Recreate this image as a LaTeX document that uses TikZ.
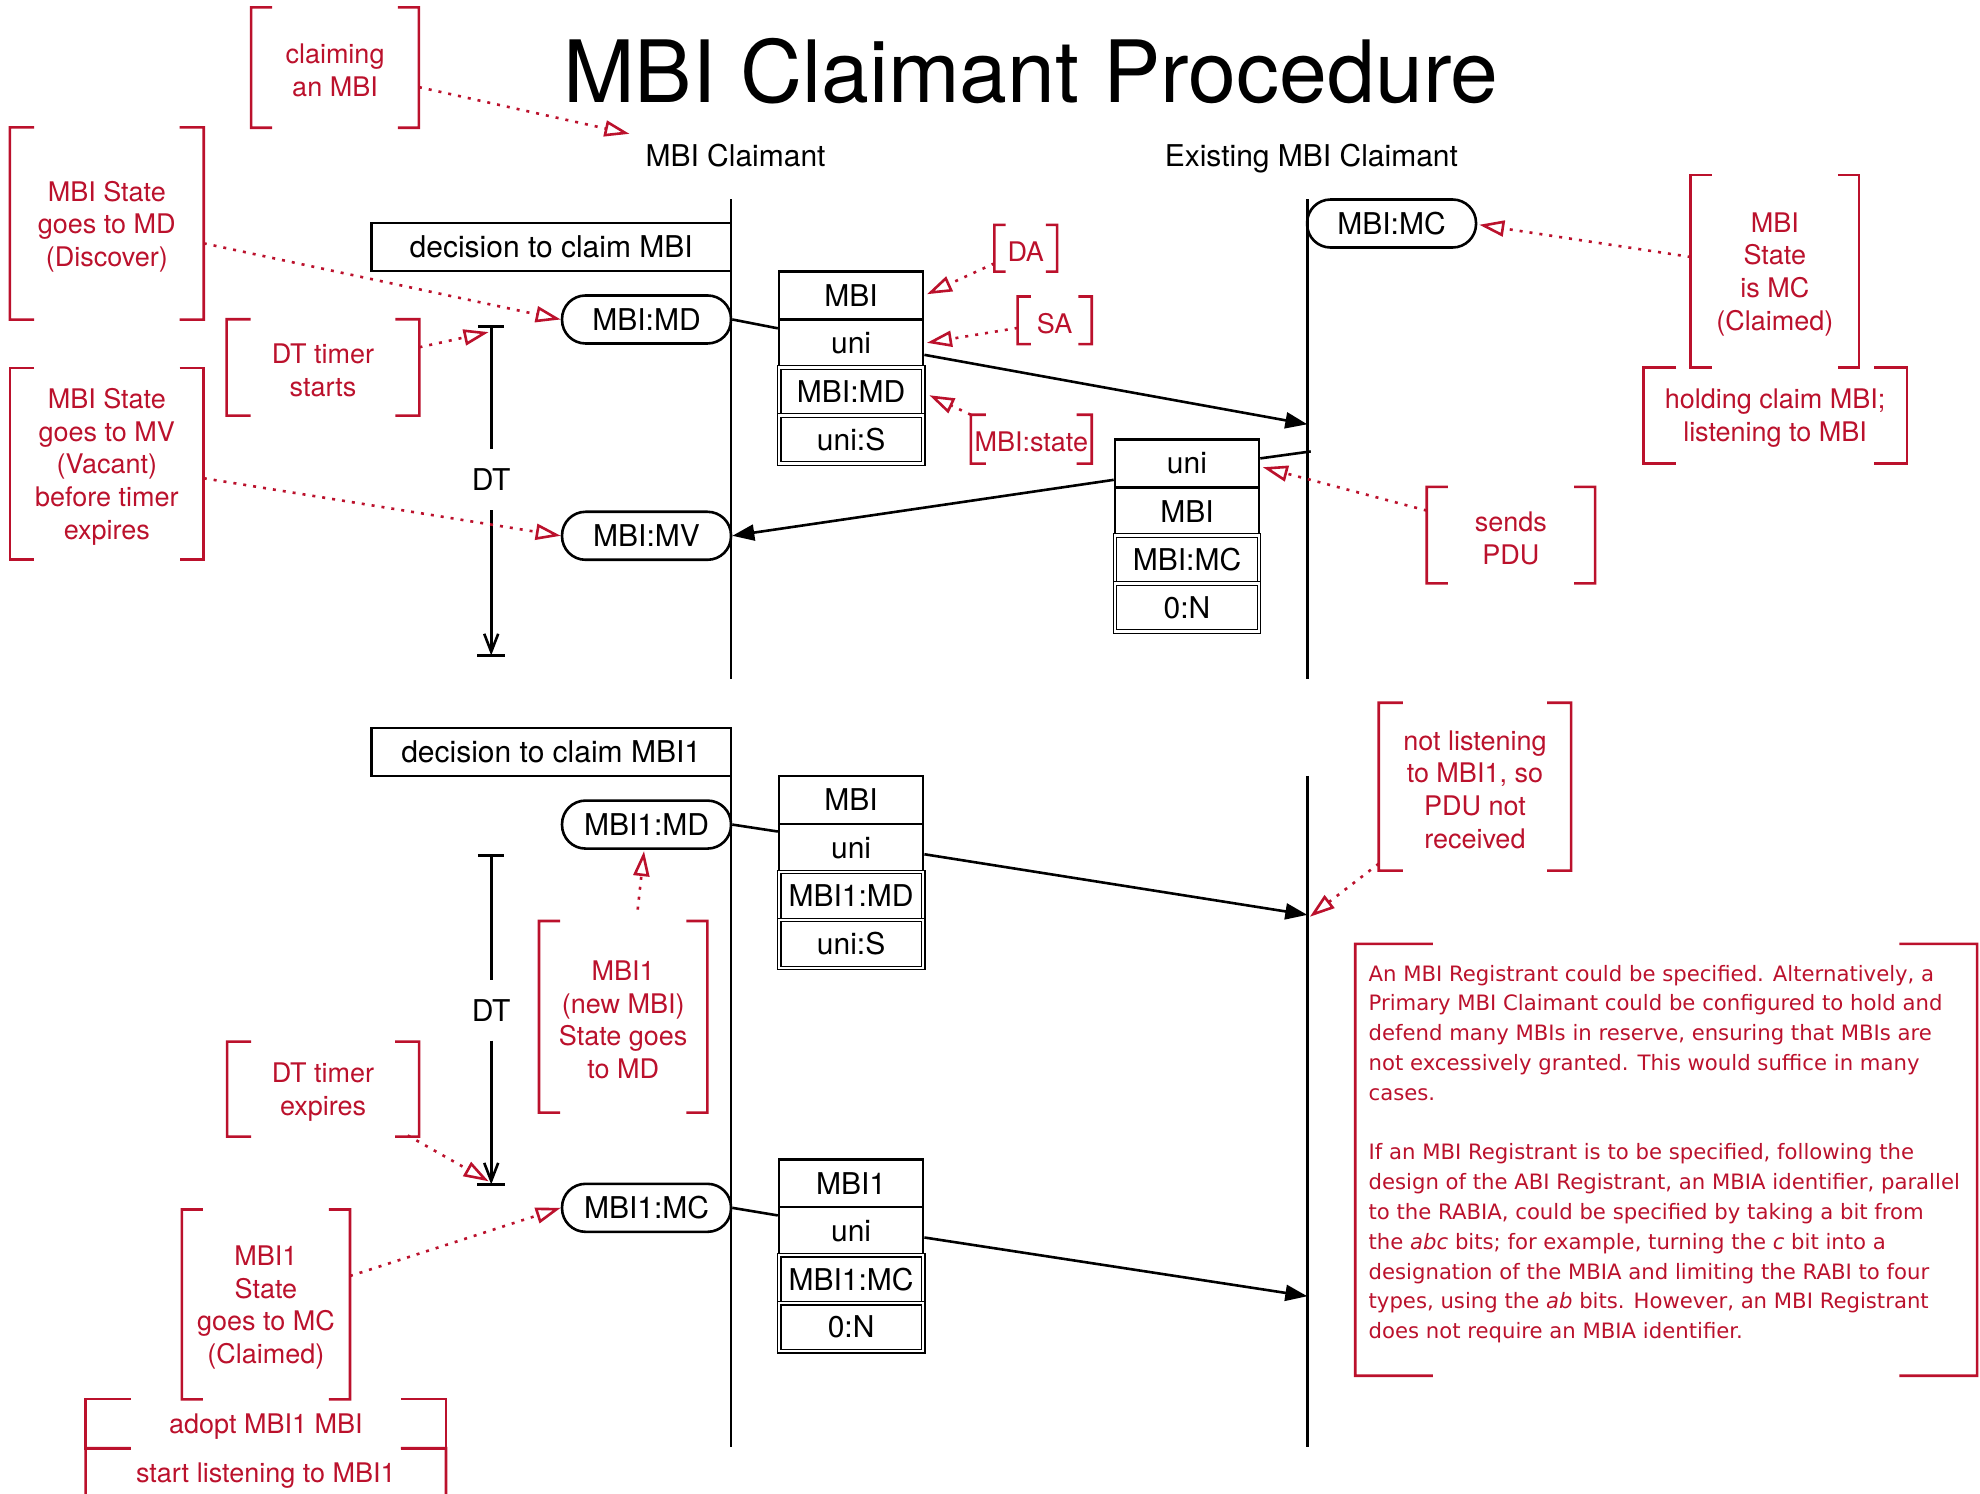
\documentclass[tikz,border=0pt]{standalone}
\usepackage{fontspec}
\setmainfont{TeX Gyre Heros}
\newfontfamily\parafont{DejaVu Sans}
\usetikzlibrary{arrows.meta,calc,fit}
\definecolor{nred}{RGB}{187,17,44}

% square brackets on both sides of a node; ticks are a fraction of its width
\newcommand\bracketsof[2][0.125]{%
  \draw[brk] ($(#2.north west)!#1!(#2.north east)$) -| (#2.south west)
    -- ($(#2.south west)!#1!(#2.south east)$);
  \draw[brk] ($(#2.north east)!#1!(#2.north west)$) -| (#2.south east)
    -- ($(#2.south east)!#1!(#2.south west)$);
}

\tikzset{
  lbl/.style={font=\fontsize{30}{36}\selectfont, inner sep=0pt},
  note/.style={font=\fontsize{27}{32.7}\selectfont, text=nred, align=center, inner sep=0pt, yshift=-3pt},
  frame/.style={inner sep=0pt},
  brk/.style={draw=nred, line width=2.6pt},
  life/.style={draw, line width=2.6pt},
  msg/.style={draw, line width=2.6pt, -{Triangle[length=22pt,width=16pt]}},
  link/.style={draw, line width=2.6pt},
  ref/.style={draw=nred, line width=2.6pt, dash pattern=on 3pt off 7pt,
    -{Triangle[open, length=25pt, width=16pt]}},
  field/.style={lbl, draw, fill=white, line width=2.6pt, minimum width=144pt, minimum height=48pt},
  dfield/.style={field, line width=1.1pt, double, double distance=2.6pt},
  state/.style={lbl, draw, rounded corners=23.5pt, line width=2.6pt,
    minimum width=169pt, minimum height=48pt},
  decision/.style={inner sep=0pt, draw, line width=2.6pt},
  timer/.style={lbl, minimum height=60.6pt},
  tbar/.style={draw, line width=2.6pt},
}

\begin{document}
\begin{tikzpicture}[x=1.2628pt, y=-1.2628pt]
\clip (0,0) rectangle (1568,1183);

% title and participants
\node[font=\fontsize{86}{100}\selectfont, anchor=base, inner sep=0pt] (title) at (816.4,81) {MBI Claimant Procedure};
\node[lbl, anchor=base] (hdr1) at (582.5,132) {MBI Claimant};
\node[lbl, anchor=base] (hdr2) at (1038.5,132) {Existing MBI Claimant};

% lifelines
\coordinate (a1top) at (579,157.6);
\coordinate (a1bot) at (579,538);
\coordinate (b1top) at (1035.3,157.6);
\coordinate (b1bot) at (1035.3,538);
\coordinate (a2top) at (579,576.5);
\coordinate (a2bot) at (579,1145.7);
\coordinate (b2top) at (1035.3,614.5);
\coordinate (b2bot) at (1035.3,1145.7);
\draw[life] (a1top) -- (a1bot);
\draw[life] (b1top) -- (b1bot);
\draw[life] (a2top) -- (a2bot);
\draw[life] (b2top) -- (b2bot);

\coordinate (hit1) at (1035.3,336);
\coordinate (src1) at (1038,357.5);
\coordinate (hit2) at (1035.3,724.5);
\coordinate (hit3) at (1035.3,1026.5);

% decisions and states
\node[decision, fit={(294,176.5) (579,214.5)}] (dec1) {};
\node[lbl] (dec1t) at (dec1.center) {decision to claim MBI};
\node[decision, fit={(294,576.5) (579,614.5)}] (dec2) {};
\node[lbl] (dec2t) at (dec2.center) {decision to claim MBI1};
\node[state] (smd) at (512,253) {MBI:MD};
\node[state] (smv) at (512,424.3) {MBI:MV};
\node[state] (smc) at (1102,177) {MBI:MC};
\node[state] (s1md) at (512,653) {MBI1:MD};
\node[state] (s1mc) at (512,956.5) {MBI1:MC};

% PDUs
\node[field] (p1m) at (674,234) {MBI};
\node[field] (p1u) at (674,272) {uni};
\node[dfield] (p1s) at (674,310) {MBI:MD};
\node[dfield] (p1a) at (674,348) {uni:S};

\node[field] (p2u) at (940,367) {uni};
\node[field] (p2m) at (940,405) {MBI};
\node[dfield] (p2s) at (940,443) {MBI:MC};
\node[dfield] (p2n) at (940,481) {0:N};

\node[field] (p3m) at (674,633.5) {MBI};
\node[field] (p3u) at (674,671.5) {uni};
\node[dfield] (p3s) at (674,709.5) {MBI1:MD};
\node[dfield] (p3a) at (674,747.5) {uni:S};

\node[field] (p4m) at (674,937) {MBI1};
\node[field] (p4u) at (674,975) {uni};
\node[dfield] (p4s) at (674,1013) {MBI1:MC};
\node[dfield] (p4n) at (674,1051) {0:N};

% messages
\draw[link] (smd.east) -- ($(p1u.west)+(0,-12)$);
\draw[msg] ($(p1u.east)+(0,9)$) -- (hit1);
\draw[link] (src1) -- ($(p2u.east)+(0,-4)$);
\draw[msg] ($(p2u.west)+(0,13)$) -- (smv.east);
\draw[link] (s1md.east) -- ($(p3u.west)+(0,-13)$);
\draw[msg] ($(p3u.east)+(0,5)$) -- (hit2);
\draw[link] (s1mc.east) -- ($(p4u.west)+(0,-12.5)$);
\draw[msg] ($(p4u.east)+(0,5)$) -- (hit3);

% DT timers
\coordinate (dt1top) at (389,258.5);
\coordinate (dt1bot) at (389,519);
\node[timer] (dt1) at (389,380) {DT};
\draw[life] (dt1top) -- (dt1.north);
\draw[life, -{Straight Barb[length=18pt,width=14pt]}] (dt1.south) -- (dt1bot);
\draw[tbar] ($(dt1top)+(-10.5,0)$) -- ($(dt1top)+(10,0)$);
\draw[tbar] ($(dt1bot)+(-11,0)$) -- ($(dt1bot)+(11,0)$);

\coordinate (dt2top) at (389,677.5);
\coordinate (dt2bot) at (389,938);
\node[timer] (dt2) at (389,800) {DT};
\draw[life] (dt2top) -- (dt2.north);
\draw[life, -{Straight Barb[length=18pt,width=14pt]}] (dt2.south) -- (dt2bot);
\draw[tbar] ($(dt2top)+(-10.5,0)$) -- ($(dt2top)+(10,0)$);
\draw[tbar] ($(dt2bot)+(-11,0)$) -- ($(dt2bot)+(11,0)$);

% note frames
\node[frame, fit={(199,6) (331.6,101)}] (claim) {};
\node[frame, fit={(8,101) (161.2,253)}] (mdnote) {};
\node[frame, fit={(179.6,253) (332,329)}] (dtstart) {};
\node[frame, fit={(8,291.5) (161.2,443)}] (mvnote) {};
\node[frame, fit={(787.6,178.2) (837,215)}] (da) {};
\node[frame, fit={(806,235) (864.4,272.4)}] (sa) {};
\node[frame, fit={(769,328.6) (864.4,367)}] (mst) {};
\node[frame, fit={(1339,138.6) (1472,291)}] (mcnote) {};
\node[frame, fit={(1301.5,291) (1510,366.7)}] (hold) {};
\node[frame, fit={(1130,385.7) (1263,461.8)}] (sends) {};
\node[frame, fit={(1092,556.7) (1244,689.3)}] (notl) {};
\node[frame, fit={(427,729.5) (560,881)}] (newmbi) {};
\node[frame, fit={(180,825) (331.7,900)}] (dtexp) {};
\node[frame, fit={(144.2,958) (277,1108)}] (mcclaim) {};
\node[frame, fit={(68,1108) (353,1147)}] (adopt) {};
\node[frame, fit={(68,1147) (353,1186)}] (listen) {};
\node[frame, fit={(1073.4,747.6) (1565.6,1089.3)}] (para) {};

% note texts
\node[note] (claimt) at (claim.center) {claiming\\an MBI};
\node[note] (mdnotet) at (mdnote.center) {MBI State\\goes to MD\\(Discover)};
\node[note] (dtstartt) at (dtstart.center) {DT timer\\starts};
\node[note] (mvnotet) at (mvnote.center) {MBI State\\goes to MV\\(Vacant)\\before timer\\expires};
\node[note] (dat) at (da.center) {DA};
\node[note] (sat) at (sa.center) {SA};
\node[note] (mstt) at (mst.center) {MBI:state};
\node[note] (mcnotet) at (mcnote.center) {MBI\\State\\is MC\\(Claimed)};
\node[note] (holdt) at (hold.center) {holding claim MBI;\\listening to MBI};
\node[note] (sendst) at (sends.center) {sends\\PDU};
\node[note] (notlt) at (notl.center) {not listening\\to MBI1, so\\PDU not\\received};
\node[note] (newmbit) at (newmbi.center) {MBI1\\(new MBI)\\State goes\\to MD};
\node[note] (dtexpt) at (dtexp.center) {DT timer\\expires};
\node[note] (mcclaimt) at (mcclaim.center) {MBI1\\State\\goes to MC\\(Claimed)};
\node[note] (adoptt) at (adopt.center) {adopt MBI1 MBI};
\node[note] (listent) at (listen.center) {start listening to MBI1};
\node[anchor=north west, inner sep=0pt, align=left, text=nred,
      font=\parafont\fontsize{21.2}{29.8}\selectfont] (parat) at (1083.7,764)
  {An MBI Registrant could be specified. Alternatively, a\\
   Primary MBI Claimant could be configured to hold and\\
   defend many MBIs in reserve, ensuring that MBIs are\\
   not excessively granted. This would suffice in many\\
   cases.\\[29.8pt]
   If an MBI Registrant is to be specified, following the\\
   design of the ABI Registrant, an MBIA identifier, parallel\\
   to the RABIA, could be specified by taking a bit from\\
   the \textit{abc} bits; for example, turning the \textit{c} bit into a\\
   designation of the MBIA and limiting the RABI to four\\
   types, using the \textit{ab} bits. However, an MBI Registrant\\
   does not require an MBIA identifier.};

\bracketsof{claim}
\bracketsof{mdnote}
\bracketsof{dtstart}
\bracketsof{mvnote}
\bracketsof[0.18]{da}
\bracketsof[0.18]{sa}
\bracketsof{mst}
\bracketsof{mcnote}
\bracketsof{hold}
\bracketsof{sends}
\bracketsof{notl}
\bracketsof{newmbi}
\bracketsof{dtexp}
\bracketsof{mcclaim}
\bracketsof{adopt}
\bracketsof{listen}
\bracketsof{para}

% note pointers
\coordinate (claimtip) at (498.5,106);
\draw[ref] ($(claim.east)+(0,15.5)$) -- (claimtip);
\draw[ref] ($(mdnote.east)+(0,15.7)$) -- (smd.west);
\draw[ref] ($(dtstart.east)+(0,-16)$) -- ($(dt1top)+(-2,4.5)$);
\draw[ref] ($(mvnote.east)+(0,11.5)$) -- (smv.west);
\draw[ref] ($(da.west)+(0,12)$) -- ($(p1m.east)+(2,-1)$);
\draw[ref] ($(sa.west)+(0,6)$) -- ($(p1u.east)+(2,-0.5)$);
\draw[ref] (mst.north west) -- ($(p1s.east)+(4.5,3)$);
\draw[ref] ($(mcnote.west)+(0,-11.3)$) -- ($(smc.east)+(1.5,1)$);
\draw[ref] ($(sends.west)+(0,-19.4)$) -- ($(p2u.east)+(2,3)$);
\draw[ref] ($(notl.south west)+(0,-5.5)$) -- ($(hit2)+(2,1.5)$);
\draw[ref] ($(newmbi.north)+(11.5,-9)$) -- ($(s1md.south)+(-2,1)$);
\draw[ref] ($(dtexp.south east)+(-9,-1)$) -- ($(dt2bot)+(-2,-2.5)$);
\draw[ref] ($(mcclaim.east)+(0,-22.5)$) -- (s1mc.west);
\end{tikzpicture}
\end{document}
